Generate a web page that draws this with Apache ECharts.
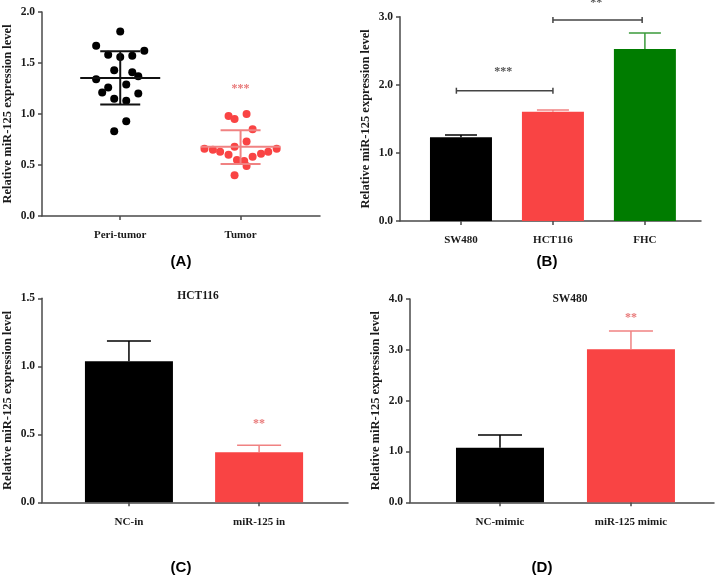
<!DOCTYPE html>
<html>
<head>
<meta charset="utf-8">
<script src="https://cdn.jsdelivr.net/npm/echarts@6/dist/echarts.min.js"></script>
<style>
  html, body { margin: 0; padding: 0; background: #fff; }
  #chart { width: 720px; height: 575px; }
</style>
</head>
<body>
<div id="chart"></div>
<script>
// ---- panel A: scatter, x = 1 + jitter ----
const groupsA = ['Peri-tumor', 'Tumor'];
const periTumor = [
  [1.0, 1.81], [0.8, 1.67], [0.9, 1.58], [1.0, 1.56], [1.1, 1.57], [1.2, 1.62],
  [0.95, 1.43], [1.1, 1.41], [1.15, 1.37], [0.8, 1.34], [0.9, 1.26], [1.05, 1.29],
  [0.85, 1.21], [1.15, 1.20], [0.95, 1.15], [1.05, 1.13], [1.05, 0.93], [0.95, 0.83]
];
const tumor = [
  [1.9, 0.98], [1.95, 0.95], [2.05, 1.00], [2.1, 0.85], [2.05, 0.73], [1.95, 0.68],
  [1.7, 0.66], [1.77, 0.65], [1.83, 0.63], [1.9, 0.60], [1.97, 0.55], [2.03, 0.54],
  [2.05, 0.49], [2.1, 0.58], [2.17, 0.61], [2.23, 0.63], [2.3, 0.66], [1.95, 0.40]
];
// [x, mean, mean-sd, mean+sd]
const statsA = [[1, 1.354, 1.093, 1.615], [2, 0.68, 0.51, 0.84]];

// ---- panel B ----
const cellsB = ['SW480', 'HCT116', 'FHC'];
const valuesB = [1.228, 1.605, 2.525];
const errTopB = [1.263, 1.63, 2.76];
// [x1, x2, y, text, textX, textY]
const bracketsB = [[0.95, 2.0, 1.913, '***', 1.46, 2.19], [2.0, 2.97, 2.95, '**', 2.47, 3.2]];

// ---- panel C ----
const groupsC = ['NC-in', 'miR-125 in'];
const valuesC = [1.037, 0.368];
const errTopC = [1.186, 0.42];

// ---- panel D ----
const groupsD = ['NC-mimic', 'miR-125 mimic'];
const valuesD = [1.075, 3.01];
const errTopD = [1.325, 3.37];

const serif = 'Liberation Serif';
const axisColor = '#4a4a4a';
const textColor = '#1a1a1a';
const red = '#f94444';
const redErr = '#f08282';
const starPink = '#e87878';
const barColors = ['#000000', red, '#007c00'];
const errColors = ['#000000', redErr, '#3a9a3a'];

function yAxisOf(grid, max, interval) {
  return {
    type: 'value', gridIndex: grid, min: 0, max: max, interval: interval,
    name: 'Relative miR-125 expression level',
    nameLocation: 'middle', nameGap: 28,
    nameTextStyle: { fontFamily: serif, fontWeight: 'bold', fontSize: 12.5, color: textColor },
    axisLine: { show: true, lineStyle: { color: axisColor, width: 1.5 } },
    axisTick: { show: true, length: 4, lineStyle: { color: axisColor, width: 1.5 } },
    axisLabel: { fontFamily: serif, fontWeight: 'bold', fontSize: 11.5, color: textColor, margin: 7,
      formatter: v => v.toFixed(1) },
    splitLine: { show: false }
  };
}

function xAxisOf(grid, min, max, names) {
  const ticks = names.map((_, i) => i + 1);
  return {
    type: 'value', gridIndex: grid, min: min, max: max,
    axisLine: { show: true, onZero: false, lineStyle: { color: axisColor, width: 1.5 } },
    axisTick: { show: true, length: 4, customValues: ticks, lineStyle: { color: axisColor, width: 1.5 } },
    axisLabel: { customValues: ticks, fontFamily: serif, fontWeight: 'bold', fontSize: 11, color: textColor, margin: 14,
      formatter: v => names[Math.round(v) - 1] || '' },
    splitLine: { show: false }
  };
}

// vertical error whisker from bar top to err top, with a cap
function errorSeries(xi, yi, values, tops, colors, capW) {
  return {
    type: 'custom', xAxisIndex: xi, yAxisIndex: yi, z: 3,
    data: values.map((v, i) => [i + 1, v, tops[i], i]),
    renderItem: function (params, api) {
      const x = api.value(0);
      const p0 = api.coord([x, api.value(1)]);
      const p1 = api.coord([x, api.value(2)]);
      const c = colors[api.value(3)];
      const st = { stroke: c, lineWidth: 1.5 };
      return { type: 'group', children: [
        { type: 'line', shape: { x1: p0[0], y1: p0[1], x2: p1[0], y2: p1[1] }, style: st },
        { type: 'line', shape: { x1: p1[0] - capW / 2, y1: p1[1], x2: p1[0] + capW / 2, y2: p1[1] }, style: st }
      ] };
    }
  };
}

function barSeries(xi, yi, values, width) {
  return {
    type: 'bar', xAxisIndex: xi, yAxisIndex: yi, barWidth: width,
    data: values.map((v, i) => ({ value: [i + 1, v], itemStyle: { color: barColors[i] } }))
  };
}

function starSeries(xi, yi, pts, color) {
  return {
    type: 'custom', xAxisIndex: xi, yAxisIndex: yi, clip: false, z: 4,
    data: pts,
    renderItem: function (params, api) {
      const p = api.coord([api.value(0), api.value(1)]);
      return { type: 'text', x: p[0], y: p[1],
        style: { text: pts[params.dataIndex][2], fill: color, font: 'bold 12px "Liberation Serif"',
          align: 'center', verticalAlign: 'middle' } };
    }
  };
}

const meanSdSeries = (color, idx) => ({
  type: 'custom', xAxisIndex: 0, yAxisIndex: 0, z: 3,
  data: [statsA[idx]],
  renderItem: function (params, api) {
    const x = api.value(0);
    const m = api.coord([x, api.value(1)]);
    const lo = api.coord([x, api.value(2)]);
    const hi = api.coord([x, api.value(3)]);
    const st = { stroke: color, lineWidth: 2 };
    return { type: 'group', children: [
      { type: 'line', shape: { x1: m[0] - 40, y1: m[1], x2: m[0] + 40, y2: m[1] }, style: st },
      { type: 'line', shape: { x1: lo[0], y1: lo[1], x2: hi[0], y2: hi[1] }, style: st },
      { type: 'line', shape: { x1: lo[0] - 20, y1: lo[1], x2: lo[0] + 20, y2: lo[1] }, style: st },
      { type: 'line', shape: { x1: hi[0] - 20, y1: hi[1], x2: hi[0] + 20, y2: hi[1] }, style: st }
    ] };
  }
});

const chart = echarts.init(document.getElementById('chart'));

const panelLabel = (text, x, y) => ({
  type: 'text', x: x, y: y,
  style: { text: text, font: 'bold 15px "Liberation Sans"', fill: '#000', align: 'center', verticalAlign: 'middle' }
});

chart.setOption({
  animation: false,
  backgroundColor: '#fff',
  grid: [
    { left: 40, top: 12, width: 280, height: 204 },
    { left: 400, top: 16.7, width: 301, height: 204.3 },
    { left: 40, top: 298.3, width: 308, height: 204 },
    { left: 410, top: 299, width: 304, height: 203.3 }
  ],
  xAxis: [
    xAxisOf(0, 0.35, 2.66, groupsA),
    xAxisOf(1, 0.337, 3.61, cellsB),
    xAxisOf(2, 0.332, 2.683, groupsC),
    xAxisOf(3, 0.313, 2.634, groupsD)
  ],
  yAxis: [
    yAxisOf(0, 2, 0.5),
    yAxisOf(1, 3, 1),
    yAxisOf(2, 1.5, 0.5),
    yAxisOf(3, 4, 1)
  ],
  title: [
    { text: 'HCT116', left: 193, top: 285, textAlign: 'center',
      textStyle: { fontFamily: serif, fontWeight: 'bold', fontSize: 11.5, color: textColor } },
    { text: 'SW480', left: 565, top: 288, textAlign: 'center',
      textStyle: { fontFamily: serif, fontWeight: 'bold', fontSize: 11.5, color: textColor } }
  ],
  graphic: [
    panelLabel('(A)', 181, 262),
    panelLabel('(B)', 547, 262),
    panelLabel('(C)', 181, 568),
    panelLabel('(D)', 542, 568)
  ],
  series: [
    // A
    { type: 'scatter', xAxisIndex: 0, yAxisIndex: 0, symbolSize: 8, data: periTumor, itemStyle: { color: '#000', opacity: 1 } },
    { type: 'scatter', xAxisIndex: 0, yAxisIndex: 0, symbolSize: 8, data: tumor, itemStyle: { color: red, opacity: 1 } },
    meanSdSeries('#111', 0),
    meanSdSeries(redErr, 1),
    starSeries(0, 0, [[2, 1.25, '***']], starPink),
    // B
    barSeries(1, 1, valuesB, 62),
    errorSeries(1, 1, valuesB, errTopB, errColors, 32),
    {
      type: 'custom', xAxisIndex: 1, yAxisIndex: 1, clip: false, z: 4,
      data: bracketsB,
      renderItem: function (params, api) {
        const a = api.coord([api.value(0), api.value(2)]);
        const b = api.coord([api.value(1), api.value(2)]);
        const t = api.coord([api.value(4), api.value(5)]);
        const st = { stroke: '#444', lineWidth: 1.5 };
        return { type: 'group', children: [
          { type: 'line', shape: { x1: a[0], y1: a[1], x2: b[0], y2: b[1] }, style: st },
          { type: 'line', shape: { x1: a[0], y1: a[1] - 3, x2: a[0], y2: a[1] + 3 }, style: st },
          { type: 'line', shape: { x1: b[0], y1: b[1] - 3, x2: b[0], y2: b[1] + 3 }, style: st },
          { type: 'text', x: t[0], y: t[1], style: { text: bracketsB[params.dataIndex][3], fill: '#555',
            font: 'bold 12px "Liberation Serif"', align: 'center', verticalAlign: 'middle' } }
        ] };
      }
    },
    // C
    barSeries(2, 2, valuesC, 88),
    errorSeries(2, 2, valuesC, errTopC, errColors, 44),
    starSeries(2, 2, [[2, 0.573, '**']], starPink),
    // D
    barSeries(3, 3, valuesD, 88),
    errorSeries(3, 3, valuesD, errTopD, errColors, 44),
    starSeries(3, 3, [[2, 3.62, '**']], starPink)
  ]
});
</script>
</body>
</html>
